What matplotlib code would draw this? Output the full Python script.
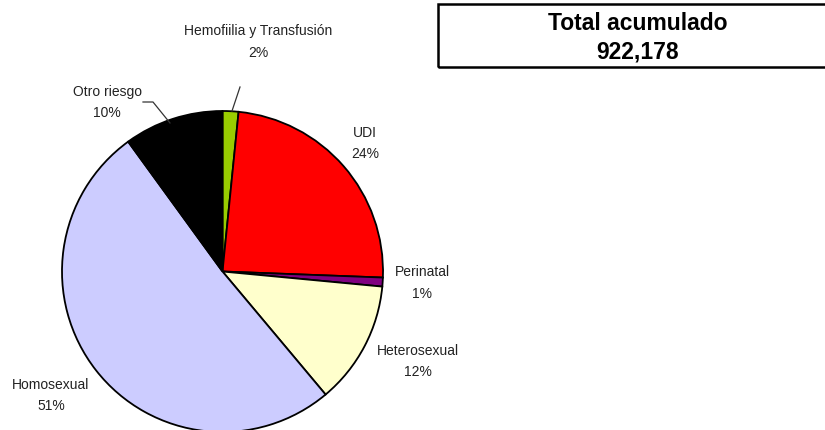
import matplotlib.pyplot as plt
from matplotlib.patches import Rectangle

plt.rcParams['font.family'] = ['Liberation Sans', 'DejaVu Sans']

# Data
categories = ['Hemofiilia y Transfusión', 'UDI', 'Perinatal', 'Heterosexual',
              'Homosexual', 'Otro riesgo']
shares = [1.6, 24.0, 0.9, 12.4, 51.1, 10.0]
colors = ['#99CC00', '#FF0000', '#800080', '#FFFFCC', '#CCCCFF', '#000000']
total_label = 'Total acumulado'
total_value = '922,178'

W, H = 825, 431
fig = plt.figure(figsize=(W / 100, H / 100), dpi=100)
fig.patch.set_facecolor('white')

# pie axes: centre at (222.5, 272.5) px, radius 160.5 px
cx, cy, r = 222.5, 272.5, 160.5
ax = fig.add_axes([(cx - r) / W, (H - cy - r) / H, 2 * r / W, 2 * r / H])
wedges, _ = ax.pie(shares, colors=colors, startangle=90, counterclock=False,
                   wedgeprops=dict(edgecolor='black', linewidth=1.3))
ax.set_aspect('equal')
ax.set_xlim(-1, 1)
ax.set_ylim(-1, 1)
ax.axis('off')


def px(x, y):
    # pixel coordinates of the reference -> pie data coordinates
    return (x - cx) / r, (cy - y) / r


# label positions (pixels, centre of two-line label)
label_pos = [(258, 42), (365, 143.5), (422, 283), (418, 361.5), (51, 395.5), (107, 102.5)]
total = sum(shares)
for name, val, (lx, ly) in zip(categories, shares, label_pos):
    x, y = px(lx, ly)
    ax.text(x, y, f'{name}\n{val / total * 100:.0f}%', ha='center', va='center',
            fontsize=10, color='#222222', linespacing=1.7, clip_on=False)

# leader lines
for pts in ([(232, 112), (240, 88)], [(143, 103), (153, 103), (170, 124)]):
    xs, ys = zip(*[px(*p) for p in pts])
    ax.plot(xs, ys, color='#333333', lw=0.9, clip_on=False)

# total box
fig.patches.append(Rectangle((438 / W, 1 - 68 / H), 400 / W, 63 / H,
                             transform=fig.transFigure, fill=False,
                             edgecolor='black', linewidth=1.8, clip_on=False))
fig.text(638 / W, 1 - 23 / H, total_label, ha='center', va='center',
         fontsize=16.5, fontweight='bold', color='black')
fig.text(638 / W, 1 - 52 / H, total_value, ha='center', va='center',
         fontsize=16.5, fontweight='bold', color='black')

plt.savefig('out.png', dpi=100)
